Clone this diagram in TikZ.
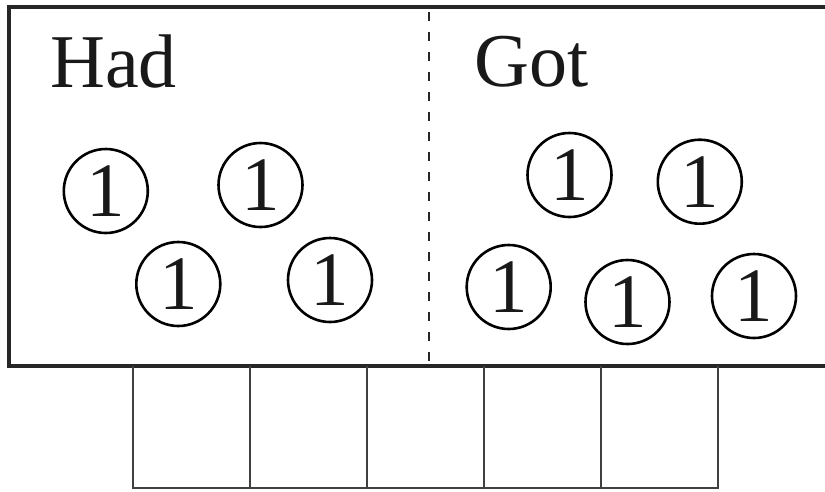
\documentclass[tikz,border=0pt]{standalone}
\usepackage{fontspec}
\setmainfont{Liberation Serif}
\begin{document}
\begin{tikzpicture}[x=1pt,y=-1pt,
  coin/.style={circle,draw,line width=2.6pt,minimum size=84pt,inner sep=0pt,
    font=\fontsize{77}{77}\selectfont,text=black!90},
  title/.style={anchor=base west,inner sep=0pt,font=\fontsize{76}{76}\selectfont,text=black!90},
  frame/.style={line width=3.5pt,draw=black!85},
  cell/.style={line width=1.2pt,draw=black!75},
  divider/.style={line width=2.2pt,draw=black!85,dash pattern=on 8.5pt off 11.5pt}]
\useasboundingbox (0,0) rectangle (825,491);
% outer frame (open on the right, runs off the picture)
\draw[frame] (830,7) -- (9.2,7) -- (9.2,366) -- (830,366);
% dashed divider
\draw[divider] (429,12) -- (429,368);
% cells below
\draw[cell] (133,366) -- (133,488) -- (718,488) -- (718,366);
\foreach \x in {250,367,484,601}{\draw[cell] (\x,366) -- (\x,488);}
% titles
\node[title] (had) at (50,87) {Had};
\node[title] (got) at (474,86) {Got};
% coins, Had side
\node[coin] (h1) at (105.8,191) {1};
\node[coin] (h2) at (260.5,185) {1};
\node[coin] (h3) at (178.3,284) {1};
\node[coin] (h4) at (330,280) {1};
% coins, Got side
\node[coin] (g1) at (569.5,175) {1};
\node[coin] (g2) at (699.8,181.7) {1};
\node[coin] (g3) at (508.7,287) {1};
\node[coin] (g4) at (627.5,302) {1};
\node[coin] (g5) at (754,296) {1};
\end{tikzpicture}
\end{document}
